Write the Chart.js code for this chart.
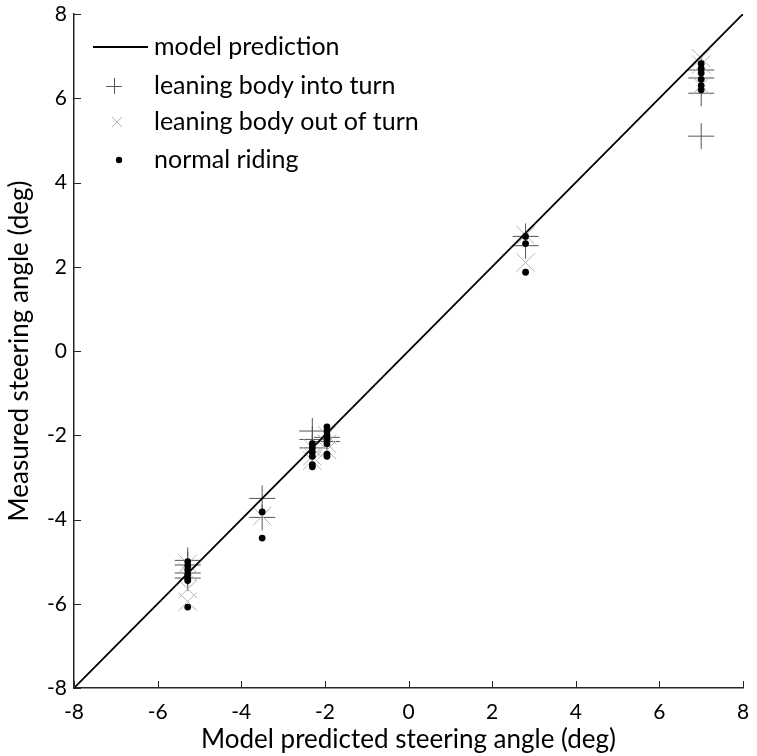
<!DOCTYPE html>
<html>
<head>
<meta charset="utf-8">
<script src="https://cdn.jsdelivr.net/npm/chart.js@4/dist/chart.umd.min.js"></script>
<style>
  html, body { margin: 0; padding: 0; background: #fff; }
  canvas { display: block; }
</style>
</head>
<body>
<canvas id="steer-chart" width="757" height="756"></canvas>
<script>
const axisTicks = [-8, -6, -4, -2, 0, 2, 4, 6, 8];

// y = x reference line
const modelX = [-8, 8];
const modelY = [-8, 8];

const intoTurnX = [-5.28, -5.28, -5.28, -5.28, -3.5, -3.5, -2.3, -2.3, -2.3, -1.95, -1.95, 2.8, 2.8, 7.0, 7.0, 7.0, 7.0];
const intoTurnY = [-4.97, -5.08, -5.27, -5.39, -3.5, -3.95, -1.9, -2.1, -2.3, -2.05, -2.15, 2.72, 2.5, 6.67, 6.48, 6.12, 5.1];

const outOfTurnX = [-5.28, -5.28, -5.28, -5.28, -3.5, -2.3, -2.3, -2.3, -1.95, -1.95, -1.95, 2.8, 2.8, 7.0, 7.0, 7.0];
const outOfTurnY = [-5.05, -5.25, -5.65, -5.95, -3.92, -2.3, -2.5, -2.6, -2.0, -2.2, -2.35, 2.75, 2.1, 6.95, 6.8, 6.3];

const normalX = [-5.28, -5.28, -5.28, -5.28, -5.28, -5.28, -5.28, -3.5, -3.5, -2.3, -2.3, -2.3, -2.3, -2.3, -2.3, -1.95, -1.95, -1.95, -1.95, -1.95, -1.95, -1.95, 2.8, 2.8, 2.8, 7.0, 7.0, 7.0, 7.0, 7.0, 7.0];
const normalY = [-5.0, -5.1, -5.2, -5.3, -5.4, -5.45, -6.08, -3.82, -4.44, -2.2, -2.3, -2.4, -2.5, -2.7, -2.75, -1.8, -1.9, -2.0, -2.1, -2.2, -2.45, -2.5, 2.72, 2.55, 1.87, 6.82, 6.7, 6.6, 6.45, 6.3, 6.2];

const FONT = 'Lato, "Open Sans", sans-serif';
const AXIS_COLOR = '#262626';
const PLUS_COLOR = '#555555';
const CROSS_COLOR = '#b4b4b4';

function toPoints(xs, ys) {
    return xs.map((x, i) => ({ x: x, y: ys[i] }));
}

// ticks point into the plot
const inwardTicks = {
    id: 'inwardTicks',
    afterDraw(chart) {
        const { ctx, chartArea, scales } = chart;
        ctx.save();
        ctx.strokeStyle = AXIS_COLOR;
        ctx.lineWidth = 1;
        axisTicks.forEach(v => {
            const px = Math.round(scales.x.getPixelForValue(v)) + 0.5;
            ctx.beginPath();
            ctx.moveTo(px, chartArea.bottom);
            ctx.lineTo(px, chartArea.bottom - 7);
            ctx.stroke();
            const py = Math.round(scales.y.getPixelForValue(v)) + 0.5;
            ctx.beginPath();
            ctx.moveTo(chartArea.left, py);
            ctx.lineTo(chartArea.left + 7, py);
            ctx.stroke();
        });
        ctx.restore();
    }
};

const sideLegend = {
    id: 'sideLegend',
    afterDraw(chart) {
        const ctx = chart.ctx;
        const rows = [
            { kind: 'line', text: 'model prediction', y: 47 },
            { kind: 'cross', text: 'leaning body into turn', y: 86 },
            { kind: 'crossRot', text: 'leaning body out of turn', y: 122 },
            { kind: 'circle', text: 'normal riding', y: 160 }
        ];
        ctx.save();
        ctx.font = '25px ' + FONT;
        ctx.textBaseline = 'middle';
        rows.forEach(r => {
            if (r.kind === 'line') {
                ctx.strokeStyle = '#000';
                ctx.lineWidth = 2;
                ctx.beginPath();
                ctx.moveTo(93, r.y);
                ctx.lineTo(148, r.y);
                ctx.stroke();
            } else if (r.kind === 'cross') {
                ctx.strokeStyle = PLUS_COLOR;
                ctx.lineWidth = 1;
                ctx.beginPath();
                ctx.moveTo(106, r.y + 0.5); ctx.lineTo(122, r.y + 0.5);
                ctx.moveTo(114.5, r.y - 8); ctx.lineTo(114.5, r.y + 8);
                ctx.stroke();
            } else if (r.kind === 'crossRot') {
                ctx.strokeStyle = CROSS_COLOR;
                ctx.lineWidth = 1;
                ctx.beginPath();
                ctx.moveTo(112, r.y - 5); ctx.lineTo(122, r.y + 5);
                ctx.moveTo(122, r.y - 5); ctx.lineTo(112, r.y + 5);
                ctx.stroke();
            } else {
                ctx.fillStyle = '#000';
                ctx.beginPath();
                ctx.arc(119, r.y, 3.2, 0, Math.PI * 2);
                ctx.fill();
            }
            ctx.fillStyle = '#000';
            ctx.fillText(r.text, 154, r.y);
        });
        ctx.restore();
    }
};

new Chart(document.getElementById('steer-chart'), {
    type: 'scatter',
    data: {
        datasets: [
            {
                type: 'line',
                label: 'model prediction',
                data: toPoints(modelX, modelY),
                borderColor: '#000',
                borderWidth: 1.8,
                pointRadius: 0,
                order: 0
            },
            {
                label: 'leaning body into turn',
                data: toPoints(intoTurnX, intoTurnY),
                pointStyle: 'cross',
                pointRadius: 13,
                borderColor: PLUS_COLOR,
                borderWidth: 1,
                order: 3
            },
            {
                label: 'leaning body out of turn',
                data: toPoints(outOfTurnX, outOfTurnY),
                pointStyle: 'crossRot',
                pointRadius: 13,
                borderColor: CROSS_COLOR,
                borderWidth: 1,
                order: 2
            },
            {
                label: 'normal riding',
                data: toPoints(normalX, normalY),
                pointStyle: 'circle',
                pointRadius: 3.4,
                backgroundColor: '#000',
                borderColor: '#000',
                borderWidth: 0,
                order: 1
            }
        ]
    },
    options: {
        responsive: false,
        animation: false,
        layout: { padding: { top: 14, right: 13, left: 0, bottom: 0 } },
        plugins: {
            legend: { display: false },
            tooltip: { enabled: false }
        },
        scales: {
            x: {
                type: 'linear',
                min: -8,
                max: 8,
                afterBuildTicks: s => { s.ticks = axisTicks.map(v => ({ value: v })); },
                afterFit: s => {
                    s.height = 68;
                    s.paddingLeft = 0;
                    s.paddingRight = 0;
                },
                grid: { display: false, drawTicks: false },
                border: { display: true, color: AXIS_COLOR, width: 1.5 },
                ticks: { color: '#000', font: { family: FONT, size: 21 }, padding: 12, maxRotation: 0 },
                title: {
                    display: true,
                    text: 'Model predicted steering angle (deg)',
                    color: '#000',
                    font: { family: FONT, size: 26 },
                    padding: { top: 0, bottom: 1 }
                }
            },
            y: {
                type: 'linear',
                min: -8,
                max: 8,
                afterBuildTicks: s => { s.ticks = axisTicks.map(v => ({ value: v })); },
                afterFit: s => {
                    s.width = 74;
                    s.paddingTop = 0;
                    s.paddingBottom = 0;
                },
                grid: { display: false, drawTicks: false },
                border: { display: true, color: AXIS_COLOR, width: 1.5 },
                ticks: { color: '#000', font: { family: FONT, size: 21 }, padding: 7 },
                title: {
                    display: true,
                    text: 'Measured steering angle (deg)',
                    color: '#000',
                    font: { family: FONT, size: 26 },
                    padding: { top: 4, bottom: 0 }
                }
            }
        }
    },
    plugins: [inwardTicks, sideLegend]
});
</script>
</body>
</html>
